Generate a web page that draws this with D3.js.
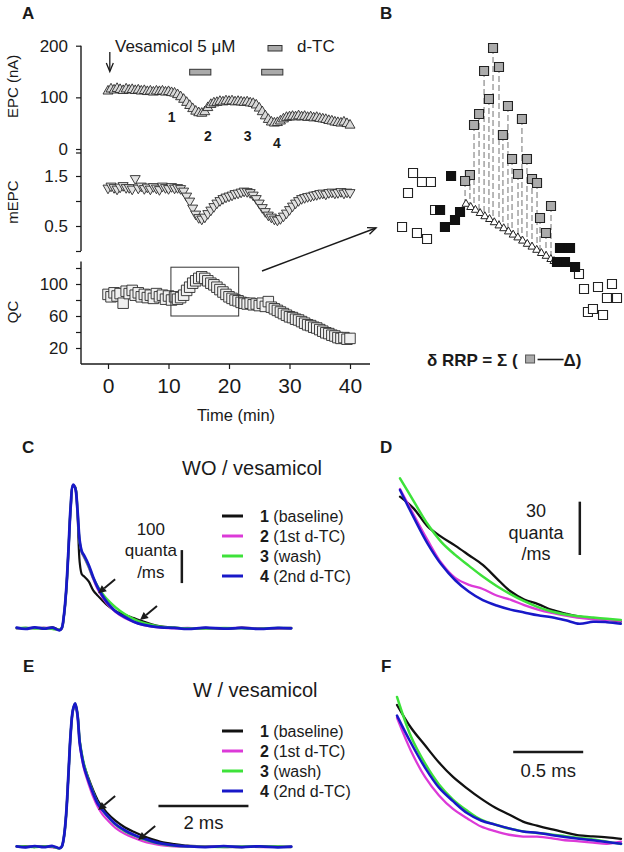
<!DOCTYPE html>
<html><head><meta charset="utf-8">
<script src="https://cdn.jsdelivr.net/npm/d3@7/dist/d3.min.js"></script>
<style>
html,body{margin:0;padding:0;background:#fff;}
svg{display:block;}
</style></head>
<body>
<svg id="fig" width="624" height="852" xmlns="http://www.w3.org/2000/svg"></svg>
<script>
// ---------------- DATA ----------------
const timeA=[0,0.5,1,1.5,2,2.5,3,3.5,4,4.5,5,5.5,6,6.5,7,7.5,8,8.5,9,9.5,10,10.5,11,11.5,12,12.5,13,13.5,14,14.5,15,15.5,16,16.5,17,17.5,18,18.5,19,19.5,20,20.5,21,21.5,22,22.5,23,23.5,24,24.5,25,25.5,26,26.5,27,27.5,28,28.5,29,29.5,30,30.5,31,31.5,32,32.5,33,33.5,34,34.5,35,35.5,36,36.5,37,37.5,38,38.5,39,39.5,40];
const epc=[112,116,114,117,115,113,116,114,115,113,
114,112,113,111,112,110,112,111,112,110,
111,109,108,105,101,96,90,84,78,73,
70,69,72,80,86,89,90,92,91,93,
92,93,91,92,91,90,91,89,88,85,
79,72,64,57,52,50,51,54,58,61,
62,63,62,64,62,63,61,62,60,61,
59,58,57,55,54,52,51,50,52,49,46];
const mepc=[1.26,1.30,1.27,1.24,1.28,1.31,1.27,1.27,1.24,1.45,
1.26,1.30,1.25,1.28,1.24,1.29,1.26,1.23,1.30,1.27,
1.25,1.29,1.26,1.27,1.25,1.20,1.10,1.00,0.86,0.74,
0.67,0.64,0.68,0.75,0.82,0.89,0.96,1.01,1.05,1.08,
1.10,1.12,1.15,1.16,1.18,1.20,1.19,1.17,1.12,1.05,
0.96,0.87,0.79,0.72,0.68,0.64,0.62,0.65,0.70,0.76,
0.83,0.90,0.96,1.01,1.05,1.07,1.09,1.10,1.12,1.13,
1.15,1.16,1.14,1.17,1.18,1.16,1.17,1.19,1.16,1.18,1.17];
const qc=[87,84,89,85,88,76,91,88,92,86,
89,84,87,83,86,82,88,84,86,81,
85,80,84,81,83,86,92,96,101,104,
107,109,107,104,101,99,96,93,90,87,
84,82,80,79,77,76,75,76,74,75,
73,76,72,78,71,69,67,65,63,61,
59,58,56,55,53,51,49,48,46,45,
43,41,39,38,36,35,33,32,33,31,32];
const timeTicks=[0,10,20,30,40];
const epcTicks=[0,100,200];
const mepcTicks=[0,0.5,1.0,1.5];
const mepcLabelled=[0.5,1.5];
const qcTicks=[20,40,60,80,100,120];
const qcLabelled=[20,60,100];
const dtcStart=[13.5,25.4];
const dtcEnd=[17.0,28.9];
const boxT=[10.4,21.6];
const boxQ=[60,121];
const stageNames=["1","2","3","4"];
const stageT=[10.5,16.5,23.1,27.9];
const stageEPC=[52,15,15,2];

// Panel B: magnified QC window (time in min, QC)
const bGrayT=[14.92,14.35,15.30,14.66,15.87,14.03,13.71,16.76,15.55,16.13,17.08,13.45,13.14,16.51,17.40,17.72,18.61,17.91,18.29];
const bGrayQ=[123,117.25,118.25,110.25,108.5,106.5,103.75,105.25,101.25,95.25,95.25,91.25,89.75,91.5,90.25,89.25,83.5,80.5,76.75];
const bOpenT=[9.83,10.40,10.97,9.51,9.13,10.08,10.72,11.23,20.39,20.71,21.60,22.49,22.17,22.81,20.96,21.28,21.92];
const bOpenQ=[91.75,89.5,89.5,86.75,78.25,76.75,75.25,82.5,66.5,62.75,63.25,64,60.5,60.5,57,57.75,56.25];
const bBlackT=[12.25,11.55,11.86,12.50,12.82,19.18,19.82,18.99,19.50,20.14];
const bBlackQ=[91,82.5,78.25,80,82,73,73,69.5,69.5,68.25];
const bTriT=[13.2,13.5,13.8,14.1,14.4,14.7,15.0,15.3,15.6,15.9,16.2,16.5,16.8,17.1,17.4,17.7,18.0,18.3,18.6,18.8];
const bTriQ=[84,83.2,82.5,81.7,80.9,80.2,79.4,78.6,77.9,77.1,76.3,75.6,74.8,74.0,73.3,72.5,71.7,71.0,70.2,69.7];

// Panels C/E: full traces (ms, quanta/ms)
const traceT=[-1.0,-0.8,-0.6,-0.4,-0.2,-0.05,0,0.05,0.1,0.15,0.2,0.25,0.3,0.35,0.4,0.45,0.5,0.6,0.7,0.8,0.9,1.0,1.2,1.4,1.6,1.8,2.0,2.2,2.5,2.8,3.2,3.6,4.0,4.4,4.8,5.1];
const cBlack=[1,-1,2,-2,3,-5,0,38,112,232,365,432,428,350,200,163,157,142,115,99,85,72,52,41,31,21,12,6,2,-1,1,-2,2,-1,0,1];
const cMagenta=[-1,1,0,2,-1,-5,0,39,115,236,369,434,424,357,262,228,214,184,149,118,95,76,49,31,19,10,5,2,0,1,-1,0,1,0,-1,0];
const cGreen=[0,2,-1,1,-2,-4,0,39,114,235,368,433,426,358,262,230,217,187,153,127,106,89,63,43,28,17,10,5,2,0,-1,1,0,-1,1,0];
const cBlue=[2,-2,3,-1,2,-6,0,40,116,237,370,435,425,360,265,232,220,192,155,124,100,80,51,34,20,11,6,3,1,-2,2,-1,1,-2,1,0];
const eBlack=[0,1,-1,2,-1,-4,0,29,98,218,343,413,432,402,320,276,246,206,171,141,121,104,78,59,45,33,23,15,8,3,1,0,-1,1,0,-1];
const eMagenta=[0,-1,1,0,-2,-4,0,30,100,220,345,415,433,398,310,266,233,189,151,121,99,83,56,39,27,17,10,5,1,0,1,-1,0,-1,0,1];
const eGreen=[1,0,-1,1,0,-5,0,30,99,219,344,414,433,403,322,280,248,202,165,133,112,95,66,47,34,24,15,9,3,1,0,-1,1,0,1,0];
const eBlue=[1,-2,2,-1,2,-5,0,30,100,220,345,415,434,400,315,272,240,198,162,131,112,96,68,50,36,26,17,10,4,1,-1,2,-1,1,-2,0];

// Panels D/F: magnified decays (ms from start of window, quanta/ms)
const zoomT=[0,0.1,0.2,0.3,0.4,0.5,0.6,0.7,0.8,0.9,1.0,1.1,1.2,1.3,1.4,1.5,1.6];
const dBlack=[76.1,69.4,59.4,53.5,48.6,43.2,37.7,30.2,22.9,18.3,15.7,12.4,10.4,8.7,7.7,6.9,5.8];
const dMagenta=[80.4,65.8,51.7,38.8,30.4,26.5,24.2,20.5,18.2,15.1,12.6,10.7,9.2,7.9,7.1,6.8,6.2];
const dGreen=[86.4,73.5,60.7,50.6,43.4,37.2,31.2,25.9,21.3,17.3,14.0,11.5,9.8,8.8,8.1,7.5,6.8];
const dBlue=[79.9,64.3,49.7,37.9,29.1,22.6,17.9,14.9,12.6,11.0,9.4,8.3,6.6,4.6,5.8,5.5,4.6];
const fBlack=[82.7,69.9,60.0,50.3,42.2,35.8,30.0,25.0,21.1,17.1,14.8,12.8,11.0,9.3,8.8,8.2,7.4];
const fMagenta=[75.4,56.8,42.2,31.8,24.2,19.0,14.3,11.7,9.7,8.7,8.6,7.8,6.6,6.0,5.3,4.6,5.8];
const fGreen=[87.2,64.9,49.8,38.0,29.5,23.3,18.2,15.5,13.2,11.6,10.7,9.9,8.9,7.9,7.0,5.8,4.5];
const fBlue=[76.7,61.3,47.5,36.2,28.6,21.9,17.7,15.4,13.3,11.5,10.8,9.6,8.5,7.5,6.6,5.6,4.6];

const legendKeys=["1","2","3","4"];
const legendNames=["(baseline)","(1st d-TC)","(wash)","(2nd d-TC)"];
const traceColors=["#111111","#dc3ad8","#3ee23a","#1818c8"];
const cArrowT=[0.81,1.74], cArrowV=[106,25];
const eArrowT=[0.81,1.70], eArrowV=[111,20];

// ---------------- DRAWING ----------------
const FF='"Liberation Sans", Arial, Helvetica, sans-serif';
const INK="#1a1a1a";
const svg=d3.select("#fig");

function text(x,y,s,size,o={}){
  const t=svg.append("text").attr("x",x).attr("y",y).text(s)
    .attr("font-family",FF).attr("font-size",size).attr("fill",o.fill||INK);
  if(o.bold) t.attr("font-weight","bold");
  if(o.anchor) t.attr("text-anchor",o.anchor);
  if(o.rotate) t.attr("transform",`rotate(-90,${x},${y})`);
  return t;
}
function styleAxis(g,fs){
  g.select(".domain").remove();
  g.selectAll("line").attr("stroke",INK).attr("stroke-width",1.2);
  g.selectAll("text").attr("font-family",FF).attr("font-size",fs).attr("fill",INK);
}
const triPath=w=>d3.symbol().type(d3.symbolTriangle).size(Math.sqrt(3)/4*w*w)();
const sqPath=w=>d3.symbol().type(d3.symbolSquare).size(w*w)();

// ---- Panel A ----
const xA=d3.scaleLinear().domain([0,40]).range([108,350]);
const yE=d3.scaleLinear().domain([0,200]).range([149,45.7]);
const yM=d3.scaleLinear().domain([0,1.5]).range([251,176]);
const yQ=d3.scaleLinear().domain([0,128]).range([364,261.6]);
const axX=81;

svg.append("g").attr("transform",`translate(${axX},0)`)
  .call(d3.axisLeft(yE).tickValues(epcTicks).tickSize(5).tickPadding(8).tickFormat(d3.format("d")))
  .call(g=>styleAxis(g,17));
svg.append("g").attr("transform",`translate(${axX},0)`)
  .call(d3.axisLeft(yM).tickValues(mepcTicks).tickSize(5).tickPadding(8)
    .tickFormat(d=>mepcLabelled.includes(d)?d3.format(".1f")(d):""))
  .call(g=>styleAxis(g,17));
svg.append("g").attr("transform",`translate(${axX},0)`)
  .call(d3.axisLeft(yQ).tickValues(qcTicks).tickSize(5).tickPadding(8)
    .tickFormat(d=>qcLabelled.includes(d)?d:""))
  .call(g=>styleAxis(g,17));
svg.append("g").attr("transform",`translate(0,${yQ(0)})`)
  .call(d3.axisBottom(xA).tickValues(timeTicks).tickSize(5).tickPadding(9))
  .call(g=>styleAxis(g,21));
svg.append("line").attr("x1",axX).attr("x2",axX).attr("y1",yE(200)).attr("y2",yM(0)).attr("stroke",INK).attr("stroke-width",1.4);
svg.append("line").attr("x1",axX).attr("x2",axX).attr("y1",yQ(128)).attr("y2",yQ(0)).attr("stroke",INK).attr("stroke-width",1.4);
svg.append("line").attr("x1",axX).attr("x2",370).attr("y1",yQ(0)).attr("y2",yQ(0)).attr("stroke",INK).attr("stroke-width",1.4);
svg.append("line").attr("x1",axX-5).attr("x2",axX).attr("y1",yE(0)+4).attr("y2",yE(0)+4).attr("stroke",INK).attr("stroke-width",1.2);

const gTri=svg.append("g");
timeA.forEach((t,i)=>{
  gTri.append("path").attr("d",triPath(10)).attr("transform",`translate(${xA(t)},${yE(epc[i])})`)
    .attr("fill","#d9d9d9").attr("stroke","#2a2a2a").attr("stroke-width",0.9);
});
timeA.forEach((t,i)=>{
  gTri.append("path").attr("d",triPath(10)).attr("transform",`translate(${xA(t)},${yM(mepc[i])}) rotate(180)`)
    .attr("fill","#e2e2e2").attr("stroke","#2a2a2a").attr("stroke-width",0.9);
});
timeA.forEach((t,i)=>{
  gTri.append("path").attr("d",sqPath(10.5)).attr("transform",`translate(${xA(t)},${yQ(qc[i])})`)
    .attr("fill","#f0f0f0").attr("stroke","#2a2a2a").attr("stroke-width",0.9);
});

text(22,19,"A",17,{bold:true});
text(115,52,"Vesamicol 5 \u03bcM",17);
{
  const ax=xA(0.3);
  svg.append("line").attr("x1",ax).attr("x2",ax).attr("y1",52).attr("y2",71).attr("stroke",INK).attr("stroke-width",1.3);
  svg.append("path").attr("d",`M${ax-3.5},63 L${ax},71.5 L${ax+3.5},63`).attr("fill","none").attr("stroke",INK).attr("stroke-width",1.3);
}
svg.append("rect").attr("x",268).attr("y",45.5).attr("width",14).attr("height",5.5).attr("fill","#aaaaaa").attr("stroke","#333").attr("stroke-width",1);
text(297,52,"d-TC",17);
dtcStart.forEach((s,i)=>{
  svg.append("rect").attr("x",xA(s)).attr("y",69.3).attr("width",xA(dtcEnd[i])-xA(s)).attr("height",5.7)
    .attr("fill","#aaaaaa").attr("stroke","#333").attr("stroke-width",1);
});
stageNames.forEach((s,i)=>text(xA(stageT[i]),yE(stageEPC[i]),s,14,{bold:true,anchor:"middle"}));
text(18,yE(100)-11,"EPC (nA)",15,{rotate:true,anchor:"middle"});
text(18,202,"mEPC",15,{rotate:true,anchor:"middle"});
text(18,312,"QC",15,{rotate:true,anchor:"middle"});
text(236,421,"Time (min)",16.5,{anchor:"middle"});
svg.append("rect").attr("x",xA(boxT[0])).attr("y",yQ(boxQ[1])).attr("width",xA(boxT[1])-xA(boxT[0])).attr("height",yQ(boxQ[0])-yQ(boxQ[1]))
  .attr("fill","none").attr("stroke","#333").attr("stroke-width",1);
{
  const x1=262,y1=271,x2=376,y2=228;
  svg.append("line").attr("x1",x1).attr("y1",y1).attr("x2",x2).attr("y2",y2).attr("stroke",INK).attr("stroke-width",1.4);
  const ang=Math.atan2(y2-y1,x2-x1), L=9;
  svg.append("path").attr("d",`M${x2-L*Math.cos(ang-0.4)},${y2-L*Math.sin(ang-0.4)} L${x2},${y2} L${x2-L*Math.cos(ang+0.4)},${y2-L*Math.sin(ang+0.4)}`)
    .attr("fill","none").attr("stroke",INK).attr("stroke-width",1.4);
}

// ---- Panel B ----
const bx=d3.scaleLinear().domain([9,23]).range([400,620]);
const by=d3.scaleLinear().domain([55,125]).range([320,40]);
const base=d3.scaleLinear().domain([bTriT[0],bTriT[bTriT.length-1]]).range([bTriQ[0],bTriQ[bTriQ.length-1]]).clamp(true);
text(380,19,"B",17,{bold:true});
bGrayT.forEach((t,i)=>{
  svg.append("line").attr("x1",bx(t)).attr("x2",bx(t)).attr("y1",by(bGrayQ[i])).attr("y2",by(base(t)))
    .attr("stroke","#8a8a8a").attr("stroke-width",1.2).attr("stroke-dasharray","6,3");
});
bTriT.forEach((t,i)=>{
  svg.append("path").attr("d",triPath(8)).attr("transform",`translate(${bx(t)},${by(bTriQ[i])})`)
    .attr("fill","#fff").attr("stroke","#222").attr("stroke-width",1);
});
bOpenT.forEach((t,i)=>{
  svg.append("path").attr("d",sqPath(9)).attr("transform",`translate(${bx(t)},${by(bOpenQ[i])})`)
    .attr("fill","#fff").attr("stroke","#222").attr("stroke-width",1.1);
});
bBlackT.forEach((t,i)=>{
  svg.append("path").attr("d",sqPath(9)).attr("transform",`translate(${bx(t)},${by(bBlackQ[i])})`)
    .attr("fill","#111").attr("stroke","#111").attr("stroke-width",1.1);
});
bGrayT.forEach((t,i)=>{
  svg.append("path").attr("d",sqPath(9)).attr("transform",`translate(${bx(t)},${by(bGrayQ[i])})`)
    .attr("fill","#ababab").attr("stroke","#222").attr("stroke-width",1.1);
});
{
  const f=text(427,366,"\u03b4 RRP = \u03a3 (",17,{bold:true});
  const w=f.node().getComputedTextLength();
  const sx=427+w+8;
  svg.append("rect").attr("x",sx).attr("y",355).attr("width",9).attr("height",8).attr("fill","#ababab").attr("stroke","#555").attr("stroke-width",1);
  svg.append("line").attr("x1",sx+12).attr("x2",sx+38).attr("y1",359.5).attr("y2",359.5).attr("stroke",INK).attr("stroke-width",1.6);
  text(sx+38,366,"\u0394)",17,{bold:true});
}

// ---- traces helpers ----
function drawTraces(xs,ys,sets,widths){
  const line=d3.line().curve(d3.curveCatmullRom.alpha(0.5));
  sets.forEach((arr,k)=>{
    const pts=arr.map((v,i)=>[xs(sets.t[i]),ys(v)]);
    svg.append("path").attr("d",line(pts)).attr("fill","none").attr("stroke",traceColors[k])
      .attr("stroke-width",widths[k]).attr("stroke-linejoin","round").attr("stroke-linecap","round");
  });
}
function arrowTo(x2,y2){
  const x1=x2+17,y1=y2-14;
  const ang=Math.atan2(y2-y1,x2-x1);
  const bx0=x2-8*Math.cos(ang), by0=y2-8*Math.sin(ang);
  svg.append("line").attr("x1",x1).attr("y1",y1).attr("x2",bx0).attr("y2",by0).attr("stroke",INK).attr("stroke-width",2);
  const px=-Math.sin(ang)*4, py=Math.cos(ang)*4;
  svg.append("path").attr("d",`M${x2},${y2} L${bx0+px},${by0+py} L${bx0-px},${by0-py} Z`).attr("fill",INK);
}
function legend(y0){
  legendKeys.forEach((k,i)=>{
    const y=y0+i*20;
    svg.append("line").attr("x1",222).attr("x2",243).attr("y1",y).attr("y2",y).attr("stroke",traceColors[i]).attr("stroke-width",3);
    const t=svg.append("text").attr("x",260).attr("y",y+5.5).attr("font-family",FF).attr("font-size",16).attr("fill",INK);
    t.append("tspan").attr("font-weight","bold").text(k);
    t.append("tspan").text(" "+legendNames[i]);
  });
}

// ---- Panel C ----
const xC=d3.scaleLinear().domain([-1,5.1]).range([16.7,291.2]);
const yC=d3.scaleLinear().domain([0,440]).range([628.3,483.1]);
text(22,453,"C",17,{bold:true});
text(182,475,"WO / vesamicol",20);
{ const s=[cBlack,cMagenta,cGreen,cBlue]; s.t=traceT; drawTraces(xC,yC,s,[2.2,2.2,2.4,2.8]); }
cArrowT.forEach((t,i)=>arrowTo(xC(t),yC(cArrowV[i])));
svg.append("line").attr("x1",xC(2.67)).attr("x2",xC(2.67)).attr("y1",yC(137)).attr("y2",yC(237)).attr("stroke",INK).attr("stroke-width",2.5);
text(xC(2.67)-31,535,"100",17,{anchor:"middle"});
text(xC(2.67)-31,556,"quanta",17,{anchor:"middle"});
text(xC(2.67)-31,578,"/ms",17,{anchor:"middle"});
legend(516);

// ---- Panel D ----
const xD=d3.scaleLinear().domain([0,1.6]).range([400,620.8]);
const yD=d3.scaleLinear().domain([0,100]).range([632,454.2]);
text(380,453,"D",17,{bold:true});
{ const s=[dBlack,dMagenta,dGreen,dBlue]; s.t=zoomT; drawTraces(xD,yD,s,[2.3,2.3,2.5,2.5]); }
svg.append("line").attr("x1",xD(1.303)).attr("x2",xD(1.303)).attr("y1",yD(43.3)).attr("y2",yD(73.3)).attr("stroke",INK).attr("stroke-width",2.5);
text(536,517,"30",18,{anchor:"middle"});
text(536,539,"quanta",18,{anchor:"middle"});
text(536,560,"/ms",18,{anchor:"middle"});

// ---- Panel E ----
const yEt=d3.scaleLinear().domain([0,440]).range([846.7,701.5]);
text(23,672,"E",17,{bold:true});
text(193,697,"W / vesamicol",20);
{ const s=[eBlack,eMagenta,eGreen,eBlue]; s.t=traceT; drawTraces(xC,yEt,s,[2.2,2.2,2.4,2.8]); }
eArrowT.forEach((t,i)=>arrowTo(xC(t),yEt(eArrowV[i])));
svg.append("line").attr("x1",xC(2.15)).attr("x2",xC(4.15)).attr("y1",yEt(123)).attr("y2",yEt(123)).attr("stroke",INK).attr("stroke-width",2.5);
text(xC(3.15),829,"2 ms",18.5,{anchor:"middle"});
legend(731);

// ---- Panel F ----
const xF=d3.scaleLinear().domain([0,1.6]).range([397,621]);
const yF=d3.scaleLinear().domain([0,100]).range([852,674.2]);
text(381,672,"F",17,{bold:true});
{ const s=[fBlack,fMagenta,fGreen,fBlue]; s.t=zoomT; drawTraces(xF,yF,s,[2.3,2.3,2.5,2.5]); }
svg.append("line").attr("x1",xF(0.83)).attr("x2",xF(1.33)).attr("y1",yF(56.2)).attr("y2",yF(56.2)).attr("stroke",INK).attr("stroke-width",2.5);
text(xF(1.08),777,"0.5 ms",18.5,{anchor:"middle"});
</script>
</body></html>
